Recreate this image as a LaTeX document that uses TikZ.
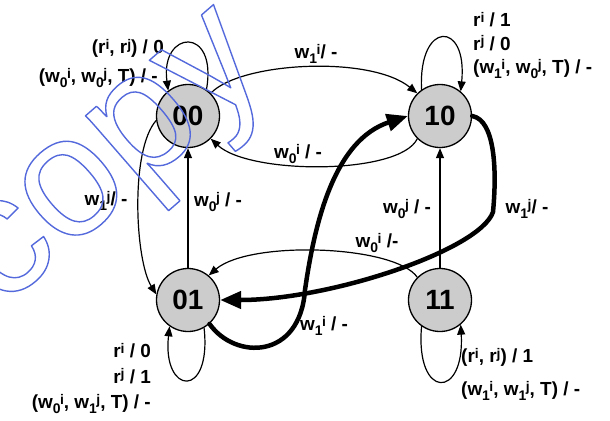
\documentclass[tikz,border=0pt]{standalone}
\usepackage{fontspec}
\setmainfont{Liberation Sans}
\usetikzlibrary{arrows.meta}
\newcommand\scr{\fontsize{14}{14}\selectfont}
\newcommand\wsub[2]{w\raisebox{-5bp}{\scr #1}\kern-.5bp\raisebox{4.5bp}{\scr #2}}
\newcommand\rsup[1]{r\raisebox{4.5bp}{\scr #1}}
\newcommand\outlined[1]{\special{pdf:literal direct 1 Tr 1.4 w 0.33 0.41 0.86 RG}#1%
  \special{pdf:literal direct 0 Tr}}
\tikzset{
  state/.style={circle,draw,line width=1.3bp,fill=black!20,minimum size=63bp,
    inner sep=0pt,font=\fontsize{28}{28}\selectfont\bfseries},
  lbl/.style={inner sep=0pt,font=\fontsize{19}{24}\selectfont\bfseries},
  edge/.style={line width=1.2bp,-{Triangle[length=10bp,width=8bp]}},
  heavy/.style={line width=4.5bp,-{Triangle[length=21bp,width=17bp]}},
  wmark/.style={rotate=41,inner sep=0pt,font=\fontsize{172}{172}\selectfont}
}
\begin{document}
\begin{tikzpicture}[x=1bp,y=-1bp,line join=round,line cap=round]
  \useasboundingbox (0,0) rectangle (610,420);
  % states
  \node[state] (n00) at (188,116) {00};
  \node[state] (n10) at (440,116) {10};
  \node[state] (n01) at (188,300) {01};
  \node[state] (n11) at (440,300) {11};
  % self loops
  \draw[edge] (n00.55) .. controls (218,25) and (160,30) .. (n00.128);
  \draw[edge] (n10.125) .. controls (418,20) and (468,20) .. (n10.50);
  \draw[edge] (n01.-60) .. controls (212,400) and (162,395) .. (n01.235);
  \draw[edge] (n11.235) .. controls (415,400) and (465,400) .. (n11.-50);
  % transitions
  \draw[edge] (n00.45) .. controls (240,62) and (370,55) .. (n10.135);
  \draw[edge] (n10.225) .. controls (400,175) and (250,175) .. (n00.-45);
  \draw[edge] (n00.188) .. controls (130,150) and (135,260) .. (n01.170);
  \draw[edge] (n01) -- (n00);
  \draw[edge] (n11) -- (n10);
  \draw[edge] (n11.135) .. controls (395,245) and (250,240) .. (n01.50);
  \draw[heavy] (n10.0) .. controls (495,120) and (497,170) .. (493,212)
    .. controls (480,250) and (330,300) .. (n01.east);
  \draw[heavy] (n01.-48) .. controls (235,360) and (300,360) .. (305,290)
    .. controls (315,220) and (335,140) .. (n10.west);
  % labels
  \node[lbl,align=right,anchor=north east,font=\fontsize{19}{29}\selectfont\bfseries]
    (l00) at (164,39) {(\rsup{i}, \rsup{j}) / 0\\(\wsub{0}{i}, \wsub{0}{j}, T) / -\hspace*{6bp}};
  \node[lbl,align=left,anchor=north west,font=\fontsize{19}{23.5}\selectfont\bfseries]
    (l10) at (473,12) {\rsup{i} / 1\\\rsup{j} / 0\\(\wsub{1}{i}, \wsub{0}{j}, T) / -};
  \node[lbl,align=right,anchor=north east,font=\fontsize{19}{25.5}\selectfont\bfseries]
    (l01) at (151,343) {\rsup{i} / 0\\\rsup{j} / 1\\(\wsub{0}{i}, \wsub{1}{j}, T) / -};
  \node[lbl,align=left,anchor=north west,font=\fontsize{19}{33}\selectfont\bfseries]
    (l11) at (461,348) {(\rsup{i}, \rsup{j}) / 1\\(\wsub{1}{i}, \wsub{1}{j}, T) / -};
  \node[lbl] (la) at (316,54) {\wsub{1}{i}/ -};
  \node[lbl] (lb) at (298,154) {\wsub{0}{i} / -};
  \node[lbl] (lc) at (106,201) {\wsub{1}{j}/ -};
  \node[lbl] (ld) at (218,202) {\wsub{0}{j} / -};
  \node[lbl] (le) at (407,209) {\wsub{0}{j} / -};
  \node[lbl] (lf) at (527,209) {\wsub{1}{j}/ -};
  \node[lbl] (lg) at (377,243) {\wsub{0}{i} /-};
  \node[lbl] (lh) at (324,326) {\wsub{1}{i} / -};
  % watermark
  \node[wmark] (wm) at (118,170) {\outlined{copy}};
\end{tikzpicture}
\end{document}
